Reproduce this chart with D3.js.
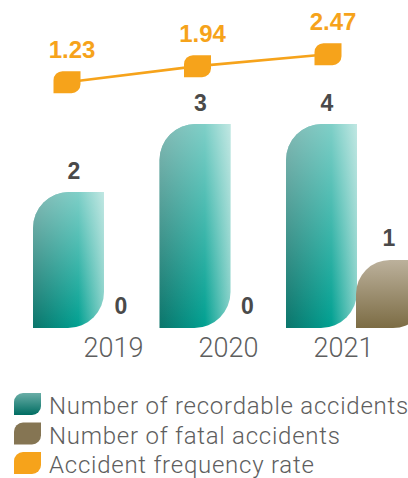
<!DOCTYPE html>
<html>
<head>
<meta charset="utf-8">
<script src="https://cdn.jsdelivr.net/npm/d3@7"></script>
<style>
  html, body { margin: 0; padding: 0; background: #fff; overflow: hidden; }
  svg { display: block; font-family: "Liberation Sans", Arial, sans-serif; }
</style>
</head>
<body>
<svg id="chart" width="408" height="478"></svg>
<script>
// Safety statistics, 2019–2021
const years = ["2019", "2020", "2021"];
const recordable = [2, 3, 4];
const fatal = [0, 0, 1];
const frequencyRate = [1.23, 1.94, 2.47];
const legendLabels = [
  "Number of recordable accidents",
  "Number of fatal accidents",
  "Accident frequency rate"
];

const svg = d3.select("#chart");
const defs = svg.append("defs");

// gradients
const gTeal = defs.append("linearGradient").attr("id", "tealH").attr("x1", 0).attr("x2", 1).attr("y1", 0).attr("y2", 0);
gTeal.append("stop").attr("offset", "0%").attr("stop-color", "#0b756b");
gTeal.append("stop").attr("offset", "64%").attr("stop-color", "#00a091");
gTeal.append("stop").attr("offset", "100%").attr("stop-color", "#82cfc6");

const gSheen = defs.append("linearGradient").attr("id", "sheen").attr("x1", 0).attr("x2", 0).attr("y1", 0).attr("y2", 1);
gSheen.append("stop").attr("offset", "0%").attr("stop-color", "#fff").attr("stop-opacity", 0.5);
gSheen.append("stop").attr("offset", "100%").attr("stop-color", "#fff").attr("stop-opacity", 0);

const gFatal = defs.append("linearGradient").attr("id", "fatalV").attr("x1", 0).attr("x2", 0).attr("y1", 0).attr("y2", 1);
gFatal.append("stop").attr("offset", "0%").attr("stop-color", "#bcb19c");
gFatal.append("stop").attr("offset", "100%").attr("stop-color", "#7c6c44");

const gSwatch = defs.append("linearGradient").attr("id", "tealSwatch").attr("x1", 0).attr("x2", 0).attr("y1", 0).attr("y2", 1);
gSwatch.append("stop").attr("offset", "0%").attr("stop-color", "#6aaea7");
gSwatch.append("stop").attr("offset", "100%").attr("stop-color", "#006d62");

const ORANGE = "#f6a31b";
const TEXT_DARK = "#4a4a4a";
const TEXT_GREY = "#5e5e5e";
const LIGHT_FONT = "Roboto, 'Liberation Sans', Arial, sans-serif";

// leaf shape: rounded top-left and bottom-right corners
function leaf(x, y, w, h, r) {
  r = Math.min(r, w, h / 2);
  const p = d3.path();
  p.moveTo(x + r, y);
  p.lineTo(x + w, y);
  p.lineTo(x + w, y + h - r);
  p.arcTo(x + w, y + h, x + w - r, y + h, r);
  p.lineTo(x, y + h);
  p.lineTo(x, y + r);
  p.arcTo(x, y, x + r, y, r);
  p.closePath();
  return p.toString();
}

// scales
const barW = 71;
const xGroup = d3.scalePoint().domain(years).range([33, 286]);
const y = d3.scaleLinear().domain([0, 3]).range([328, 124]).clamp(true);
const xLine = d3.scalePoint().domain(years).range([67, 328]);
const yLine = d3.scaleLinear().domain([0, 3]).range([110, 42.2]);
const xLabel = d3.scalePoint().domain(years).range([113, 343]);

const rows = years.map((yr, i) => ({ yr, rec: recordable[i], fat: fatal[i], rate: frequencyRate[i] }));

// recordable bars
const recG = svg.append("g");
rows.forEach(d => {
  const x0 = xGroup(d.yr), top = y(d.rec), h = y(0) - top;
  const path = leaf(x0, top, barW, h, 36);
  recG.append("path").attr("d", path).attr("fill", "url(#tealH)");
  recG.append("path").attr("d", path).attr("fill", "url(#sheen)");
});

// fatal bars
rows.forEach(d => {
  const x0 = xGroup(d.yr) + barW - 1, top = y(d.fat), h = y(0) - top;
  if (h > 0) svg.append("path").attr("d", leaf(x0, top, barW, h, 36)).attr("fill", "url(#fatalV)");
});

// count labels
const countFont = "bold 23px 'Liberation Sans', Arial, sans-serif";
rows.forEach(d => {
  svg.append("text").attr("x", xGroup(d.yr) + 41).attr("y", y(d.rec) - 13)
    .attr("text-anchor", "middle").style("font", countFont).attr("fill", TEXT_DARK).text(d.rec);
  const fx = xGroup(d.yr) + barW - 1;
  svg.append("text").attr("x", fx + (d.fat === 0 ? 18 : 33)).attr("y", y(d.fat) - 14)
    .attr("text-anchor", "middle").style("font", countFont).attr("fill", TEXT_DARK).text(d.fat);
});

// year axis
const axis = svg.append("g").attr("transform", "translate(0,338)")
  .call(d3.axisBottom(xLabel).tickSize(0).tickPadding(0));
axis.select(".domain").remove();
axis.selectAll("text").attr("dy", "0.71em").attr("y", 0)
  .style("font-family", LIGHT_FONT)
  .style("font-size", "27px").style("font-weight", 300).attr("fill", TEXT_GREY);

// frequency rate line
const line = d3.line().x(d => xLine(d.yr)).y(d => yLine(d.rate));
svg.append("path").datum(rows).attr("d", line).attr("fill", "none")
  .attr("stroke", ORANGE).attr("stroke-width", 2.6);
rows.forEach(d => {
  const cx = xLine(d.yr), cy = yLine(d.rate);
  svg.append("path").attr("d", leaf(cx - 13.5, cy - 11, 27, 22, 9)).attr("fill", ORANGE);
  svg.append("text").attr("x", cx + 5).attr("y", cy - 24).attr("text-anchor", "middle")
    .style("font", "bold 24px 'Liberation Sans', Arial, sans-serif").attr("fill", ORANGE)
    .text(d3.format(".2f")(d.rate));
});

// legend
const swatchFills = ["url(#tealSwatch)", "#857553", ORANGE];
const legend = svg.append("g").attr("transform", "translate(14,393)");
legendLabels.forEach((lab, i) => {
  const g = legend.append("g").attr("transform", `translate(0,${i * 29.5})`);
  g.append("path").attr("d", leaf(0, 0, 27, 22, 9)).attr("fill", swatchFills[i]);
  g.append("text").attr("x", 35).attr("y", 21)
    .style("font-family", LIGHT_FONT)
    .style("font-size", "24px").style("font-weight", 300)
    .style("letter-spacing", "0.75px")
    .attr("fill", TEXT_GREY).text(lab);
});
</script>
</body>
</html>
